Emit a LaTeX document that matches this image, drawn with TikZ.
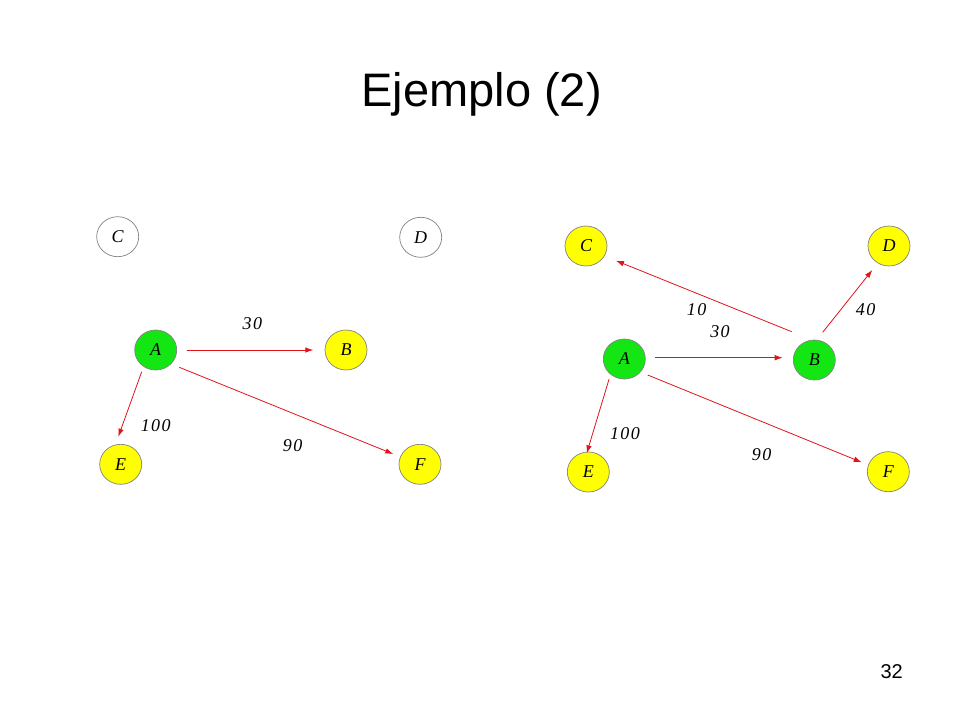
\documentclass[tikz,border=0pt]{standalone}
\usepackage{fontspec}
\setmainfont{Liberation Serif}
\newfontfamily\titlefont{Liberation Sans}
\newfontfamily\lblfont[LetterSpace=8]{Liberation Serif}
\usetikzlibrary{arrows.meta,shapes.geometric}
\definecolor{ngreen}{RGB}{20,230,20}
\definecolor{nyellow}{RGB}{255,255,0}
\definecolor{nborder}{RGB}{130,130,130}
\definecolor{ered}{RGB}{225,20,30}
\tikzset{
  vtx/.style={ellipse,draw=nborder,line width=0.7pt,minimum width=42pt,minimum height=40pt,inner sep=0pt,font=\fontsize{18}{18}\selectfont\itshape},
  gvtx/.style={vtx,fill=ngreen},
  yvtx/.style={vtx,fill=nyellow},
  wvtx/.style={vtx,fill=white},
  arr/.style={draw=ered,line width=0.8pt,-{Latex[length=8pt,width=5.5pt]}},
  wlbl/.style={inner sep=0pt,font=\lblfont\fontsize{18}{18}\selectfont\itshape}
}
\begin{document}
\begin{tikzpicture}[x=1pt,y=-1pt]
\useasboundingbox[fill=white] (0,0) rectangle (960,720);
\node[anchor=base,inner sep=0pt,font=\titlefont\fontsize{47}{47}\selectfont] (title) at (481.7,106) {Ejemplo (2)};
\node[anchor=base,inner sep=0pt,font=\titlefont\fontsize{20}{20}\selectfont] (pnum) at (891.7,678) {32};
% left graph
\node[wvtx] (LC) at (117.7,236.7) {C};
\node[wvtx] (LD) at (420.7,237.3) {D};
\node[gvtx] (LA) at (155.7,350) {A};
\node[yvtx] (LB) at (346,350) {B};
\node[yvtx] (LE) at (120.7,464.3) {E};
\node[yvtx] (LF) at (420,464.3) {F};
\draw[arr] ([shift={(31,0)}]LA.center) -- ([shift={(-32.7,0)}]LB.center);
\draw[arr] ([shift={(-14,21.7)}]LA.center) -- ([shift={(-2.4,-27.6)}]LE.center);
\draw[arr] ([shift={(23.6,17.3)}]LA.center) -- ([shift={(-26.7,-10.3)}]LF.center);
\node[wlbl] (L30) at (252.3,323.3) {30};
\node[wlbl] (L100) at (155.7,426) {100};
\node[wlbl] (L90) at (292.7,446) {90};
% right graph
\node[yvtx] (RC) at (586,246) {C};
\node[yvtx] (RD) at (889,246) {D};
\node[gvtx] (RA) at (624.3,359) {A};
\node[gvtx] (RB) at (814.3,360) {B};
\node[yvtx] (RE) at (588.3,472) {E};
\node[yvtx] (RF) at (888.3,471.7) {F};
\draw[arr] ([shift={(30.7,-1.3)}]RA.center) -- ([shift={(-31.6,-2.3)}]RB.center);
\draw[arr] ([shift={(-22.6,-28.3)}]RB.center) -- ([shift={(30,14.7)}]RC.center);
\draw[arr] ([shift={(8.4,-27.7)}]RB.center) -- ([shift={(-16.7,24)}]RD.center);
\draw[arr] ([shift={(-15.3,20.3)}]RA.center) -- ([shift={(-1.6,-18.7)}]RE.center);
\draw[arr] ([shift={(23.4,16)}]RA.center) -- ([shift={(-26.6,-9.4)}]RF.center);
\node[wlbl] (R10) at (696.7,310) {10};
\node[wlbl] (R30) at (720,331.7) {30};
\node[wlbl] (R40) at (865.7,309.3) {40};
\node[wlbl] (R100) at (625,434) {100};
\node[wlbl] (R90) at (761.7,455) {90};
\end{tikzpicture}
\end{document}
